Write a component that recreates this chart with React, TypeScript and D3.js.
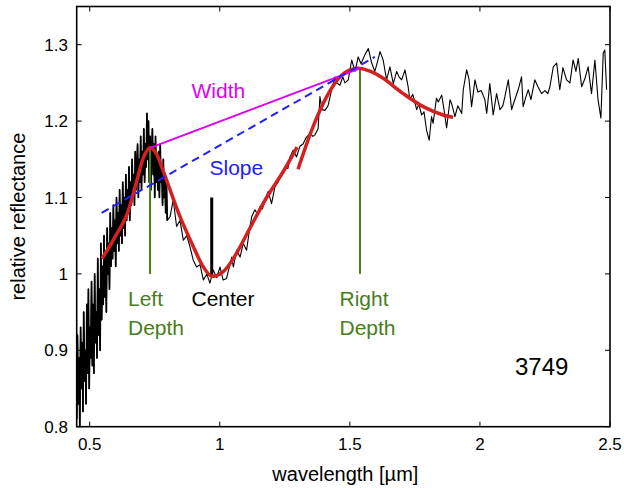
import React from 'react';
import * as d3 from 'd3';

const W = 624;
const H = 488;
const margin = { left: 76.7, right: 14, top: 6.5, bottom: 61.3 };

const xDomain = [0.45, 2.5];
const yDomain = [0.8, 1.35];
const xTicks = [0.5, 1, 1.5, 2, 2.5];
const xTickLabels = ['0.5', '1', '1.5', '2', '2.5'];
const yTicks = [0.8, 0.9, 1, 1.1, 1.2, 1.3];
const yTickLabels = ['0.8', '0.9', '1', '1.1', '1.2', '1.3'];

// visible part of the spectrum, sampled every 0.003 µm from 0.45 µm
const visStart = 0.45;
const visStep = 0.003;
const visReflectance = [
  0.81, 0.92, 0.83, 0.89, 0.80, 0.93, 0.85,
  0.91, 0.82, 0.95, 0.86, 0.90, 0.83, 0.96,
  0.87, 0.98, 0.85, 0.93, 0.89, 0.99,
  0.88, 0.96, 0.87, 1.00, 0.91, 0.95, 0.89,
  1.02, 0.92, 0.98, 0.90, 1.04, 0.94,
  1.01, 0.96, 1.05, 0.97, 1.03, 0.95, 1.06,
  1.00, 1.04, 0.98, 1.08, 1.01, 1.06,
  1.02, 1.09, 1.03, 1.07, 1.01, 1.10, 1.04,
  1.08, 1.03, 1.11, 1.05, 1.09, 1.04,
  1.12, 1.06, 1.10, 1.05, 1.13, 1.07, 1.11,
  1.08, 1.14, 1.07, 1.12, 1.09, 1.15,
  1.10, 1.13, 1.09, 1.16, 1.11, 1.14, 1.17,
  1.10, 1.15, 1.12, 1.18, 1.11, 1.16,
  1.13, 1.19, 1.12, 1.17, 1.14, 1.21, 1.15,
  1.20, 1.12, 1.18, 1.11, 1.16, 1.19,
  1.13, 1.17, 1.10, 1.18, 1.12, 1.15, 1.11,
  1.16, 1.10, 1.17, 1.12, 1.14, 1.09,
  1.15, 1.10, 1.13, 1.08, 1.12, 1.07,
];

// near-infrared part of the spectrum
const nirWavelength = [
  0.809, 0.821, 0.834, 0.847, 0.860, 0.873, 0.885, 0.898, 0.911, 0.924,
  0.937, 0.950, 0.962, 0.975, 0.988, 1.001, 1.013, 1.026, 1.039, 1.046,
  1.052, 1.065, 1.078, 1.090, 1.103, 1.116, 1.123, 1.135, 1.145, 1.154,
  1.164, 1.174, 1.186, 1.199, 1.212, 1.224, 1.231, 1.244, 1.251, 1.262,
  1.270, 1.282, 1.295, 1.308, 1.320, 1.331, 1.347, 1.358, 1.366, 1.378,
  1.385, 1.393, 1.404, 1.416, 1.430, 1.443, 1.450, 1.462, 1.473, 1.481,
  1.494, 1.507, 1.520, 1.532, 1.543, 1.558, 1.571, 1.584, 1.596, 1.604,
  1.616, 1.628, 1.641, 1.654, 1.667, 1.680, 1.689, 1.699, 1.712, 1.724,
  1.731, 1.742, 1.757, 1.765, 1.776, 1.785, 1.795, 1.805, 1.814, 1.820,
  1.833, 1.840, 1.853, 1.862, 1.872, 1.885, 1.892, 1.904, 1.915, 1.930,
  1.936, 1.949, 1.958, 1.968, 1.981, 1.992, 2.004, 2.011, 2.019, 2.026,
  2.038, 2.051, 2.064, 2.077, 2.088, 2.096, 2.109, 2.122, 2.131, 2.147,
  2.160, 2.166, 2.177, 2.186, 2.196, 2.211, 2.223, 2.237, 2.250, 2.261,
  2.269, 2.282, 2.295, 2.307, 2.319, 2.333, 2.346, 2.358, 2.369, 2.378,
  2.391, 2.403, 2.416, 2.429, 2.442, 2.454, 2.465, 2.474, 2.480, 2.487,
];
const nirReflectance = [
  1.075, 1.097, 1.062, 1.070, 1.044, 1.050, 1.036, 1.018, 1.009, 1.012,
  0.992, 1.000, 0.988, 1.005, 0.995, 1.009, 0.992, 0.994, 1.012, 1.022,
  1.009, 1.031, 1.022, 1.040, 1.031, 1.062, 1.075, 1.084, 1.078, 1.088,
  1.085, 1.097, 1.108, 1.092, 1.114, 1.120, 1.127, 1.132, 1.140, 1.138,
  1.153, 1.162, 1.153, 1.167, 1.170, 1.178, 1.184, 1.180, 1.182, 1.190,
  1.232, 1.215, 1.214, 1.220, 1.241, 1.258, 1.250, 1.247, 1.258, 1.250,
  1.254, 1.280, 1.265, 1.284, 1.275, 1.287, 1.295, 1.276, 1.265, 1.275,
  1.291, 1.280, 1.254, 1.271, 1.249, 1.265, 1.258, 1.254, 1.267, 1.245,
  1.228, 1.235, 1.215, 1.222, 1.208, 1.212, 1.188, 1.175, 1.206, 1.197,
  1.230, 1.225, 1.234, 1.215, 1.191, 1.228, 1.222, 1.206, 1.220, 1.210,
  1.241, 1.267, 1.255, 1.219, 1.254, 1.238, 1.240, 1.235, 1.228, 1.210,
  1.249, 1.208, 1.236, 1.215, 1.220, 1.232, 1.254, 1.215, 1.225, 1.241,
  1.258, 1.219, 1.232, 1.241, 1.228, 1.254, 1.245, 1.236, 1.240, 1.236,
  1.245, 1.271, 1.276, 1.241, 1.270, 1.254, 1.250, 1.280, 1.265, 1.282,
  1.245, 1.255, 1.271, 1.236, 1.280, 1.228, 1.204, 1.289, 1.293, 1.241,
];

// polynomial fits (red)
const leftFitWavelength = [0.547, 0.59, 0.642, 0.681, 0.71, 0.732, 0.755, 0.78, 0.809, 0.847, 0.898, 0.937, 0.969, 1.01, 1.052, 1.116, 1.18, 1.244, 1.297];
const leftFitReflectance = [1.02, 1.044, 1.077, 1.122, 1.155, 1.165, 1.158, 1.137, 1.11, 1.075, 1.036, 1.009, 0.997, 1.002, 1.02, 1.06, 1.1, 1.134, 1.166];
const rightFitWavelength = [1.301, 1.359, 1.411, 1.462, 1.5, 1.539, 1.58, 1.628, 1.705, 1.782, 1.859, 1.897];
const rightFitReflectance = [1.137, 1.193, 1.232, 1.258, 1.267, 1.269, 1.265, 1.256, 1.236, 1.219, 1.208, 1.205];

// band parameters
const leftPeak = [0.732, 1.165];
const rightPeak = [1.539, 1.269];
const bandCenter = [0.969, 0.997];
const centerMarkTop = 1.1;
const depthBase = 1.0;
const slopeStart = [0.546, 1.08];
const slopeEnd = [1.596, 1.284];
const asteroidId = '3749';

const FONT = '"Liberation Sans", Arial, Helvetica, sans-serif';

export default function App() {
  const x = d3.scaleLinear().domain(xDomain).range([margin.left, W - margin.right]);
  const y = d3.scaleLinear().domain(yDomain).range([H - margin.bottom, margin.top]);

  const visData: [number, number][] = visReflectance.map((v, i) => [visStart + i * visStep, v]);
  const nirData: [number, number][] = nirWavelength.map((w, i) => [w, nirReflectance[i]]);
  const spectrum = [...visData, ...nirData];

  const line = d3.line<[number, number]>().x(d => x(d[0])).y(d => y(d[1]));
  const smooth = d3.line<[number, number]>().x(d => x(d[0])).y(d => y(d[1])).curve(d3.curveCatmullRom.alpha(0.5));
  const leftFit: [number, number][] = leftFitWavelength.map((w, i) => [w, leftFitReflectance[i]]);
  const rightFit: [number, number][] = rightFitWavelength.map((w, i) => [w, rightFitReflectance[i]]);

  const x0 = x.range()[0], x1 = x.range()[1];
  const y0 = y.range()[0], y1 = y.range()[1];
  const tick = 5;

  const red = '#d4201f';
  const green = '#4a7d1c';
  const magenta = '#dd00f0';
  const blue = '#2020ff';

  return (
    <div style={{ position: 'fixed', left: 0, top: 0 }}>
      <svg width={W} height={H} style={{ display: 'block', background: '#fff' }} fontFamily={FONT}>
        <defs>
          <clipPath id="plotclip">
            <rect x={x0} y={y1} width={x1 - x0} height={y0 - y1} />
          </clipPath>
        </defs>
        <rect x={0} y={0} width={W} height={H} fill="#fff" />
        <g clipPath="url(#plotclip)">
          <path d={line(visData) || ''} fill="none" stroke="#000" strokeWidth={1.7} strokeLinejoin="round" />
          <path d={line(spectrum) || ''} fill="none" stroke="#000" strokeWidth={1.1} strokeLinejoin="round" />
        </g>
        {/* depth lines */}
        <line x1={x(leftPeak[0])} x2={x(leftPeak[0])} y1={y(leftPeak[1])} y2={y(depthBase)} stroke={green} strokeWidth={2} />
        <line x1={x(rightPeak[0])} x2={x(rightPeak[0])} y1={y(rightPeak[1])} y2={y(depthBase)} stroke={green} strokeWidth={2} />
        {/* center mark */}
        <line x1={x(bandCenter[0])} x2={x(bandCenter[0])} y1={y(centerMarkTop)} y2={y(bandCenter[1])} stroke="#000" strokeWidth={3} />
        {/* fits */}
        <path d={smooth(leftFit) || ''} fill="none" stroke={red} strokeWidth={3.5} strokeLinecap="butt" />
        <path d={smooth(rightFit) || ''} fill="none" stroke={red} strokeWidth={3.5} strokeLinecap="butt" />
        {/* width */}
        <line x1={x(leftPeak[0])} x2={x(rightPeak[0])} y1={y(leftPeak[1])} y2={y(rightPeak[1])} stroke={magenta} strokeWidth={2} />
        {/* slope */}
        <line x1={x(slopeStart[0])} x2={x(slopeEnd[0])} y1={y(slopeStart[1])} y2={y(slopeEnd[1])} stroke={blue} strokeWidth={2} strokeDasharray="8,5" />

        {/* annotations */}
        <text x={191.5} y={98} fontSize={21} fill={magenta}>Width</text>
        <text x={209.5} y={175} fontSize={21} fill={blue}>Slope</text>
        <text x={128} y={306} fontSize={21} fill={green}>Left</text>
        <text x={128} y={335} fontSize={21} fill={green}>Depth</text>
        <text x={191.5} y={306} fontSize={21} fill="#000">Center</text>
        <text x={339.5} y={306} fontSize={21} fill={green}>Right</text>
        <text x={339.5} y={335} fontSize={21} fill={green}>Depth</text>
        <text x={515} y={375} fontSize={24} fill="#000">{asteroidId}</text>

        {/* axes box */}
        <rect x={x0} y={y1} width={x1 - x0} height={y0 - y1} fill="none" stroke="#000" strokeWidth={1.6} />
        {xTicks.map((t, i) => (
          <g key={'xt' + i}>
            <line x1={x(t)} x2={x(t)} y1={y0} y2={y0 - tick} stroke="#000" strokeWidth={1} />
            <line x1={x(t)} x2={x(t)} y1={y1} y2={y1 + tick} stroke="#000" strokeWidth={1} />
            <text x={x(t)} y={450} fontSize={17} textAnchor="middle" fill="#000">{xTickLabels[i]}</text>
          </g>
        ))}
        {yTicks.map((t, i) => (
          <g key={'yt' + i}>
            <line x1={x0} x2={x0 + tick} y1={y(t)} y2={y(t)} stroke="#000" strokeWidth={1} />
            <line x1={x1} x2={x1 - tick} y1={y(t)} y2={y(t)} stroke="#000" strokeWidth={1} />
            <text x={68} y={y(t)} dy="0.36em" fontSize={17} textAnchor="end" fill="#000">{yTickLabels[i]}</text>
          </g>
        ))}
        <text x={(x0 + x1) / 2 + 2} y={481} fontSize={20} textAnchor="middle" fill="#000">wavelength [µm]</text>
        <text transform={`translate(25,${(y0 + y1) / 2}) rotate(-90)`} fontSize={20} textAnchor="middle" fill="#000">relative reflectance</text>
      </svg>
    </div>
  );
}
